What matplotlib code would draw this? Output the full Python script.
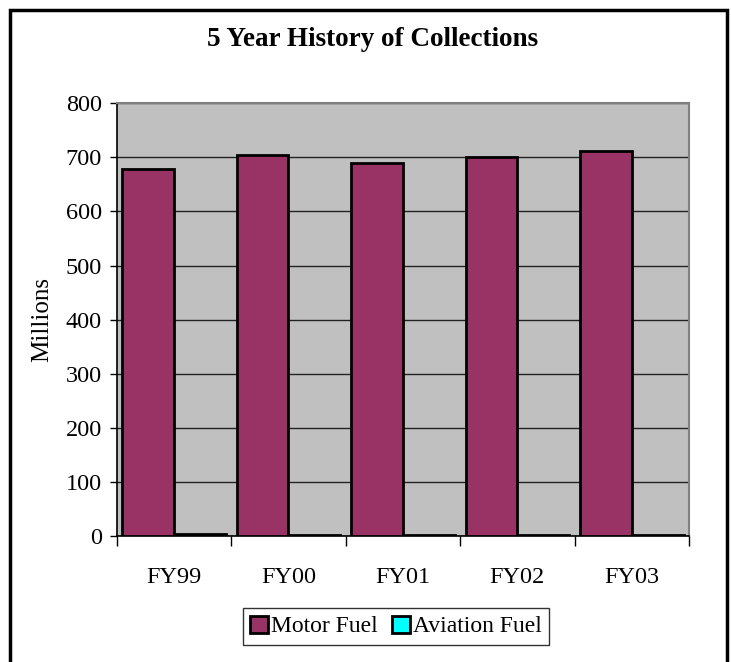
import numpy as np
import matplotlib
matplotlib.use("Agg")
import matplotlib.pyplot as plt
from matplotlib.patches import Rectangle
from matplotlib.ticker import FixedLocator

# datos (millones)
years = ["FY99", "FY00", "FY01", "FY02", "FY03"]
motor_fuel = [678, 705, 690, 701, 711]
aviation_fuel = [4, 1, 1, 1, 1]

plt.rcParams['font.family'] = ['Liberation Serif', 'DejaVu Serif']

fig = plt.figure(figsize=(7.31, 6.62), dpi=100)
ax = fig.add_axes([117/731, 1-536/662, (689-117)/731, (536-103.3)/662])

x = np.arange(len(years))
w = 0.45
ax.bar(x - 0.227, motor_fuel, w, color="#993366", edgecolor="black",
       linewidth=2.0, label="Motor Fuel", zorder=3)
ax.bar(x + 0.227, aviation_fuel, w, color="#00FFFF", edgecolor="black",
       linewidth=2.0, label="Aviation Fuel", zorder=3)

ax.set_facecolor("#C0C0C0")
ax.set_xlim(-0.5, len(years) - 0.5)
ax.set_ylim(0, 800)
ax.set_yticks(np.arange(0, 801, 100))
ax.yaxis.grid(True, color="#222222", linewidth=1.0, zorder=1)

# etiquetas en el centro, marcas en los limites de categoria
ax.set_xticks(x)
ax.set_xticklabels(years)
ax.xaxis.set_minor_locator(FixedLocator(np.arange(-0.5, len(years), 1)))
ax.tick_params(axis="x", which="major", length=0, pad=22, labelsize=17.5)
ax.tick_params(axis="x", which="minor", length=7, width=1, direction="out")
ax.tick_params(axis="y", length=5, width=1, direction="out", pad=6, labelsize=17.5)

for side in ["top", "right"]:
    ax.spines[side].set_color("#808080")
    ax.spines[side].set_linewidth(1.5)
for side in ["left", "bottom"]:
    ax.spines[side].set_color("black")
    ax.spines[side].set_linewidth(1.2)

fig.text(373/731, 1-40/662, "5 Year History of Collections", ha="center",
         va="center", fontsize=19.5, fontweight="bold")
fig.text(42/731, 1-320/662, "Millions", rotation=90, ha="center",
         va="center", fontsize=18)

leg = fig.legend(loc="center", bbox_to_anchor=(396/731, 1-626.5/662), ncol=2,
                 fontsize=17, frameon=True, fancybox=False, handlelength=0.75,
                 handleheight=0.75, handletextpad=0.15, columnspacing=0.6,
                 borderpad=0.3, borderaxespad=0)
leg.get_frame().set_edgecolor("black")
leg.get_frame().set_linewidth(1.0)

# marco exterior
fig.patches.append(Rectangle((10/731, -0.02), 717/731, 1.02-10/662,
                             transform=fig.transFigure, fill=False,
                             edgecolor="black", linewidth=2.5))

fig.savefig("out.png", dpi=100)
